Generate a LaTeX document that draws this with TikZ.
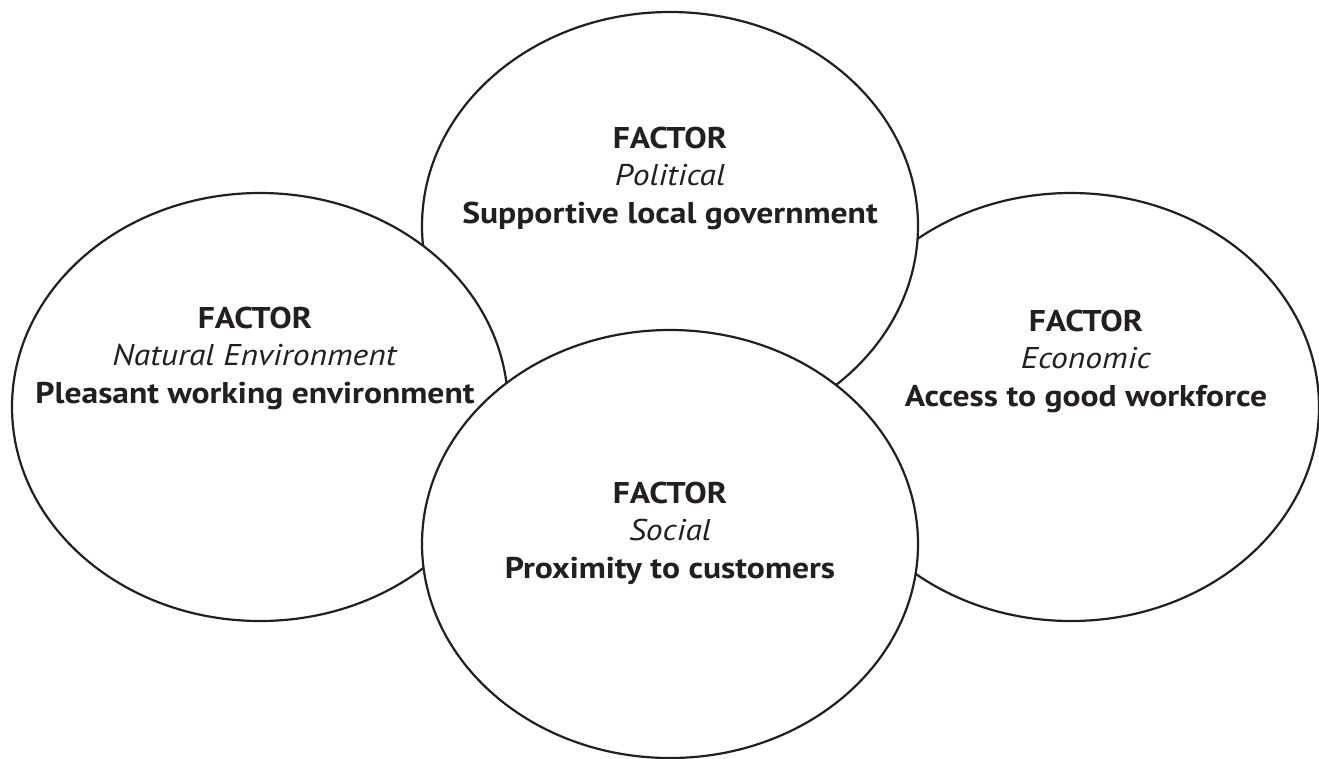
\documentclass[tikz,border=0pt]{standalone}
\usepackage{fontspec}
\setmainfont[FakeStretch=1.12]{PT Sans}
\usetikzlibrary{shapes.geometric}
\definecolor{ink}{RGB}{35,31,32}
\begin{document}
\begin{tikzpicture}[x=1pt,y=-1pt,
  blob/.style={ellipse, draw=ink, line width=2.2pt, fill=white, inner sep=0pt, outer sep=0pt,
    minimum width=496pt, minimum height=428pt},
  lbl/.style={align=center, text=ink, font=\fontsize{30}{37.5}\selectfont, inner sep=0pt}]
\useasboundingbox (0,0) rectangle (1319,758);
\node[blob] (R) at (1071,407) {};
\node[blob] (T) at (670,226) {};
\node[blob] (L) at (260,407) {};
\node[blob] (B) at (670,544) {};
\node[lbl] (tT) at (670,178) {\textbf{FACTOR}\\\textit{Political}\\\textbf{Supportive local government}};
\node[lbl] (tL) at (255,358) {\textbf{FACTOR}\\\textit{Natural Environment}\\\textbf{Pleasant working environment}};
\node[lbl] (tR) at (1086,361) {\textbf{FACTOR}\\\textit{Economic}\\\textbf{Access to good workforce}};
\node[lbl] (tB) at (670,533) {\textbf{FACTOR}\\\textit{Social}\\\textbf{Proximity to customers}};
\end{tikzpicture}
\end{document}
